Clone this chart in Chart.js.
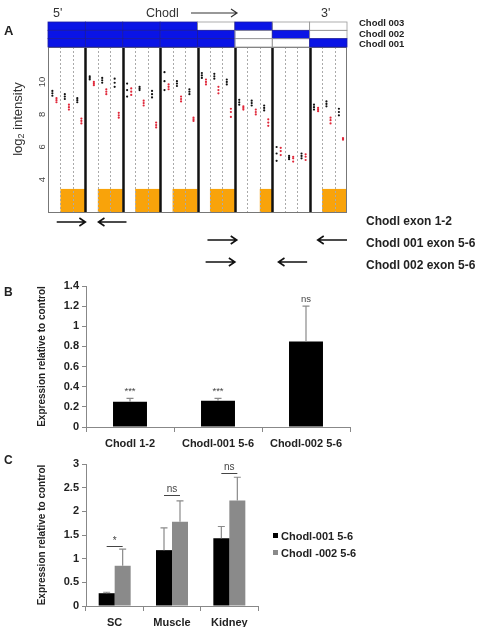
<!DOCTYPE html>
<html>
<head>
<meta charset="utf-8">
<script src="https://cdn.jsdelivr.net/npm/chart.js@4.4.1/dist/chart.umd.min.js"></script>
<style>
  body { margin: 0; background: #fff; font-family: Arial, "Liberation Sans", sans-serif; }
  #wrap { position: relative; width: 493px; height: 627px; overflow: hidden; }
  canvas { position: absolute; left: 0; }
  .lbl { position: absolute; white-space: nowrap; color: #222; line-height: 1; }
  .b { font-weight: bold; }
  .legend-item { position: absolute; left: 273px; font-weight: bold; font-size: 11px; color: #222; line-height: 1; white-space: nowrap; }
  .legend-item span { display: inline-block; width: 5px; height: 5px; margin-right: 3px; vertical-align: 2px; }
</style>
</head>
<body>
<div id="wrap">
  <canvas id="chartA" width="493" height="280" style="top:0"></canvas>
  <canvas id="chartB" width="493" height="185" style="top:270px"></canvas>
  <canvas id="chartC" width="493" height="177" style="top:450px"></canvas>

  <div class="lbl b" style="left:4px;top:24px;font-size:13px">A</div>
  <div class="lbl" style="left:53px;top:7px;font-size:12.5px;color:#333">5'</div>
  <div class="lbl" style="left:146px;top:7px;font-size:12.5px;color:#333">Chodl</div>
  <div class="lbl" style="left:321px;top:7px;font-size:12.5px;color:#333">3'</div>
  <div id="txLabels"></div>
  <div id="primerLabels"></div>
  <div class="lbl b" style="left:4px;top:286px;font-size:12px">B</div>
  <div class="lbl b" style="left:4px;top:454px;font-size:12px">C</div>
  <div id="legendC"></div>
</div>

<script>
// ---- panel A: exon array, 8 exons x 3 probes, control (black) vs mutant (red) ----
const probesPerExon = 3;
const ctrlA = [
  [9.45, 9.3, 9.15], [9.25, 9.1, 8.95], [9.0, 8.88, 8.75],
  [10.35, 10.25, 10.15], [10.25, 10.1, 9.95], [10.2, 9.95, 9.7],
  [9.9, 9.5, 9.1], [9.7, 9.6, 9.5], [9.45, 9.25, 9.05],
  [10.6, 10.05, 9.5], [10.05, 9.9, 9.75], [9.55, 9.4, 9.25],
  [10.55, 10.4, 10.25], [10.5, 10.35, 10.2], [10.15, 10.0, 9.85],
  [8.9, 8.75, 8.6], [8.85, 8.7, 8.55], [8.55, 8.4, 8.25],
  [6.0, 5.6, 5.15], [5.45, 5.35, 5.25], [5.6, 5.45, 5.3],
  [8.6, 8.45, 8.3], [8.8, 8.65, 8.5], [8.35, 8.15, 7.95]
];
const mutA = [
  [9.0, 8.88, 8.75], [8.6, 8.45, 8.3], [7.75, 7.6, 7.45],
  [10.0, 9.9, 9.8], [9.55, 9.4, 9.25], [8.1, 7.95, 7.8],
  [9.6, 9.4, 9.2], [8.85, 8.7, 8.55], [7.5, 7.35, 7.2],
  [9.85, 9.7, 9.55], [9.1, 8.95, 8.8], [7.8, 7.7, 7.6],
  [10.15, 10.0, 9.85], [9.7, 9.5, 9.3], [8.35, 8.15, 7.85],
  [8.5, 8.4, 8.3], [8.3, 8.15, 8.0], [7.7, 7.5, 7.3],
  [5.95, 5.75, 5.5], [5.4, 5.3, 5.1], [5.55, 5.4, 5.2],
  [8.4, 8.3, 8.2], [7.8, 7.65, 7.45], [6.55, 6.5, 6.45]
];
const yTicksA = [4, 6, 8, 10];
const exonTrackTop = 3.42;
// probe spans (in probe units) that fall inside an exon
const exonSpansA = [[1, 3], [4, 6], [7, 9], [10, 12], [13, 15], [17, 18], [22, 24]];
// transcript map, one flag per exon block
const txNames = ['Chodl 003', 'Chodl 002', 'Chodl 001'];
const txMap = [
  [1, 1, 1, 1, 0, 1, 0, 0],
  [1, 1, 1, 1, 1, 0, 1, 0],
  [1, 1, 1, 1, 1, 0, 0, 1]
];
// primer pairs in probe units
const primerNames = ['Chodl exon 1-2', 'Chodl 001 exon 5-6', 'Chodl 002 exon 5-6'];
const primerFwd = [[0.7, 3.0], [12.8, 15.15], [12.65, 15.0]];
const primerRev = [[4.05, 6.3], [21.65, 24.0], [18.5, 20.8]];

// ---- panel B ----
const catsB = ['Chodl 1-2', 'Chodl-001 5-6', 'Chodl-002 5-6'];
const valsB = [0.25, 0.26, 0.85];
const errTopB = [0.285, 0.285, 1.2];
const sigB = ['***', '***', 'ns'];

// ---- panel C ----
const catsC = ['SC', 'Muscle', 'Kidney'];
const seriesC = ['Chodl-001 5-6', 'Chodl -002 5-6'];
const vals001C = [0.27, 1.18, 1.43];
const vals002C = [0.85, 1.78, 2.23];
const errTop001C = [0.29, 1.65, 1.68];
const errTop002C = [1.2, 2.22, 2.72];
const sigC = ['*', 'ns', 'ns'];
const sigLevelC = [1.27, 2.35, 2.81];

const FONT = 'Arial, "Liberation Sans", sans-serif';
const BLUE = '#0a14e6';
const GRAY = '#8a8a8a';

// html labels for panel A
document.getElementById('txLabels').innerHTML = txNames.map((t, i) =>
  `<div class="lbl b" style="left:359px;top:${18 + i * 10.5}px;font-size:9.5px">${t}</div>`).join('');
const primerTops = [215, 237, 259];
document.getElementById('primerLabels').innerHTML = primerNames.map((t, i) =>
  `<div class="lbl b" style="left:366px;top:${primerTops[i]}px;font-size:12px">${t}</div>`).join('');

function arrow(ctx, x0, x1, y, dir) {
  ctx.beginPath();
  ctx.moveTo(x0, y);
  ctx.lineTo(x1, y);
  const tip = dir > 0 ? x1 : x0;
  ctx.moveTo(tip - dir * 6, y - 4);
  ctx.lineTo(tip, y);
  ctx.lineTo(tip - dir * 6, y + 4);
  ctx.stroke();
}

const panelAPlugin = {
  id: 'panelA',
  beforeDatasetsDraw(chart) {
    const { ctx, chartArea: a, scales: { x, y } } = chart;
    ctx.save();
    // exon track
    ctx.fillStyle = '#f9a30a';
    const yt = y.getPixelForValue(exonTrackTop);
    exonSpansA.forEach(([s, e]) => {
      const x0 = x.getPixelForValue(s), x1 = x.getPixelForValue(e);
      ctx.fillRect(x0, yt, x1 - x0, a.bottom - yt);
    });
    // probe separators
    const n = ctrlA.length;
    for (let k = 1; k < n; k++) {
      const px = Math.round(x.getPixelForValue(k)) + 0.5;
      ctx.beginPath();
      if (k % probesPerExon === 0) {
        ctx.setLineDash([]);
        ctx.lineWidth = 2.5;
        ctx.strokeStyle = '#111';
      } else {
        ctx.setLineDash([2, 2]);
        ctx.lineWidth = 1;
        ctx.strokeStyle = '#aaa';
      }
      ctx.moveTo(px, a.top);
      ctx.lineTo(px, a.bottom);
      ctx.stroke();
    }
    ctx.setLineDash([]);
    ctx.lineWidth = 1;
    ctx.strokeStyle = '#777';
    ctx.strokeRect(a.left + 0.5, a.top + 0.5, a.right - a.left - 1, a.bottom - a.top);
    ctx.restore();
  },
  afterDraw(chart) {
    const { ctx, chartArea: a, scales: { x, y } } = chart;
    ctx.save();
    // transcript map
    const rowH = 25 / txMap.length;
    txMap.forEach((row, r) => {
      row.forEach((on, e) => {
        const x0 = x.getPixelForValue(e * probesPerExon);
        const x1 = x.getPixelForValue((e + 1) * probesPerExon);
        const y0 = a.top - 25 + r * rowH;
        if (on) { ctx.fillStyle = BLUE; ctx.fillRect(x0, y0, x1 - x0, rowH); }
        ctx.strokeStyle = on ? '#1a1aa0' : '#999';
        ctx.lineWidth = 0.8;
        ctx.strokeRect(x0, y0, x1 - x0, rowH);
      });
    });
    // gene direction arrow
    ctx.strokeStyle = '#333';
    ctx.lineWidth = 1.2;
    arrow(ctx, 191, 237, 13, 1);
    // primers
    ctx.strokeStyle = '#111';
    ctx.lineWidth = 1.6;
    const primerY = [222, 240, 262];
    primerFwd.forEach((p, i) => arrow(ctx, x.getPixelForValue(p[0]), x.getPixelForValue(p[1]), primerY[i], 1));
    primerRev.forEach((p, i) => arrow(ctx, x.getPixelForValue(p[0]), x.getPixelForValue(p[1]), primerY[i], -1));
    // rotated y tick labels
    ctx.fillStyle = '#444';
    ctx.font = '9.5px ' + FONT;
    ctx.textAlign = 'center';
    ctx.textBaseline = 'middle';
    yTicksA.forEach(v => {
      ctx.save();
      ctx.translate(42, y.getPixelForValue(v));
      ctx.rotate(-Math.PI / 2);
      ctx.fillText(String(v), 0, 0);
      ctx.restore();
    });
    // axis title log2 intensity
    ctx.save();
    ctx.translate(18, 119);
    ctx.rotate(-Math.PI / 2);
    ctx.fillStyle = '#333';
    ctx.textAlign = 'left';
    ctx.textBaseline = 'middle';
    ctx.font = '13px ' + FONT;
    const w1 = ctx.measureText('log').width;
    const w3 = ctx.measureText(' intensity').width;
    ctx.font = '9px ' + FONT;
    const w2 = ctx.measureText('2').width;
    let sx = -(w1 + w2 + w3) / 2;
    ctx.font = '13px ' + FONT;
    ctx.fillText('log', sx, 0);
    ctx.font = '9px ' + FONT;
    ctx.fillText('2', sx + w1, 4);
    ctx.font = '13px ' + FONT;
    ctx.fillText(' intensity', sx + w1 + w2, 0);
    ctx.restore();
    ctx.restore();
  }
};

new Chart(document.getElementById('chartA'), {
  type: 'scatter',
  data: {
    datasets: [
      {
        data: ctrlA.flatMap((reps, i) => reps.map(v => ({ x: i + 0.35, y: v }))),
        backgroundColor: '#111', borderWidth: 0, pointRadius: 1.1
      },
      {
        data: mutA.flatMap((reps, i) => reps.map(v => ({ x: i + 0.68, y: v }))),
        backgroundColor: '#e0283a', borderWidth: 0, pointRadius: 1.1
      }
    ]
  },
  options: {
    responsive: false,
    animation: false,
    layout: { padding: { top: 47, right: 146, bottom: 68, left: 0 } },
    plugins: { legend: { display: false }, tooltip: { enabled: false } },
    scales: {
      x: { type: 'linear', min: 0, max: ctrlA.length, display: false },
      y: {
        min: 2, max: 12.15,
        ticks: { display: false },
        grid: { display: false },
        border: { display: false },
        afterFit: s => { s.width = 48; }
      }
    }
  },
  plugins: [panelAPlugin]
});

// error bars + significance
const errorPlugin = {
  id: 'errs',
  afterDatasetsDraw(chart) {
    const { ctx, scales: { y } } = chart;
    ctx.save();
    ctx.strokeStyle = GRAY;
    ctx.lineWidth = 1.2;
    chart.data.datasets.forEach((ds, di) => {
      const meta = chart.getDatasetMeta(di);
      meta.data.forEach((bar, i) => {
        const ty = y.getPixelForValue(ds.errTop[i]);
        ctx.beginPath();
        ctx.moveTo(bar.x, bar.y);
        ctx.lineTo(bar.x, ty);
        ctx.moveTo(bar.x - 3.5, ty);
        ctx.lineTo(bar.x + 3.5, ty);
        ctx.stroke();
        if (ds.sig) {
          ctx.fillStyle = '#444';
          ctx.font = '9.5px ' + FONT;
          ctx.textAlign = 'center';
          ctx.textBaseline = 'bottom';
          ctx.fillText(ds.sig[i], bar.x, ty - 2);
        }
      });
    });
    const sig = chart.options.sigPairs;
    if (sig) {
      const m0 = chart.getDatasetMeta(0), m1 = chart.getDatasetMeta(1);
      ctx.strokeStyle = '#444';
      ctx.lineWidth = 1;
      ctx.fillStyle = '#444';
      ctx.font = '10px ' + FONT;
      ctx.textAlign = 'center';
      ctx.textBaseline = 'bottom';
      sig.labels.forEach((t, i) => {
        const ly = Math.round(y.getPixelForValue(sig.levels[i])) + 0.5;
        const x0 = m0.data[i].x, x1 = m1.data[i].x;
        ctx.beginPath();
        ctx.moveTo(x0, ly);
        ctx.lineTo(x1, ly);
        ctx.stroke();
        ctx.fillText(t, (x0 + x1) / 2, ly - (t === '*' ? 0 : 1));
      });
    }
    ctx.restore();
  }
};

const tickFont = { family: FONT, size: 11, weight: 'bold' };
const titleFont = { family: FONT, size: 10, weight: 'bold' };

function axes(max, step, yWidth, xHeight) {
  return {
    x: {
      grid: { display: true, drawOnChartArea: false, offset: true, tickLength: 5, color: '#888' },
      border: { color: '#888' },
      ticks: { font: tickFont, color: '#222', padding: 5, maxRotation: 0 },
      afterFit: s => { s.height = xHeight; }
    },
    y: {
      min: 0, max: max,
      ticks: { stepSize: step, font: tickFont, color: '#222', padding: 3, callback: v => String(+v.toFixed(2)) },
      grid: { drawOnChartArea: false, tickLength: 4, color: '#888' },
      border: { color: '#888' },
      title: { display: true, text: 'Expression relative to control', font: titleFont, color: '#222', padding: { top: 36, bottom: 0 } },
      afterFit: s => { s.width = yWidth; }
    }
  };
}

new Chart(document.getElementById('chartB'), {
  type: 'bar',
  data: {
    labels: catsB,
    datasets: [{ data: valsB, errTop: errTopB, sig: sigB, backgroundColor: '#000', barPercentage: 0.386, categoryPercentage: 1 }]
  },
  options: {
    responsive: false,
    animation: false,
    layout: { padding: { top: 16, right: 143, bottom: 0, left: 0 } },
    plugins: { legend: { display: false }, tooltip: { enabled: false } },
    scales: axes(1.4, 0.2, 86, 28)
  },
  plugins: [errorPlugin]
});

const colorsC = ['#000', GRAY];
new Chart(document.getElementById('chartC'), {
  type: 'bar',
  data: {
    labels: catsC,
    datasets: [
      { label: seriesC[0], data: vals001C, errTop: errTop001C, backgroundColor: colorsC[0], barPercentage: 1, categoryPercentage: 0.558 },
      { label: seriesC[1], data: vals002C, errTop: errTop002C, backgroundColor: colorsC[1], barPercentage: 1, categoryPercentage: 0.558 }
    ]
  },
  options: {
    responsive: false,
    animation: false,
    sigPairs: { labels: sigC, levels: sigLevelC },
    layout: { padding: { top: 14, right: 235, bottom: 0, left: 0 } },
    plugins: { legend: { display: false }, tooltip: { enabled: false } },
    scales: axes(3, 0.5, 86, 21)
  },
  plugins: [errorPlugin]
});

document.getElementById('legendC').innerHTML = seriesC.map((s, i) =>
  `<div class="legend-item" style="top:${531 + i * 17}px"><span style="background:${colorsC[i]}"></span>${s}</div>`).join('');
</script>
</body>
</html>
